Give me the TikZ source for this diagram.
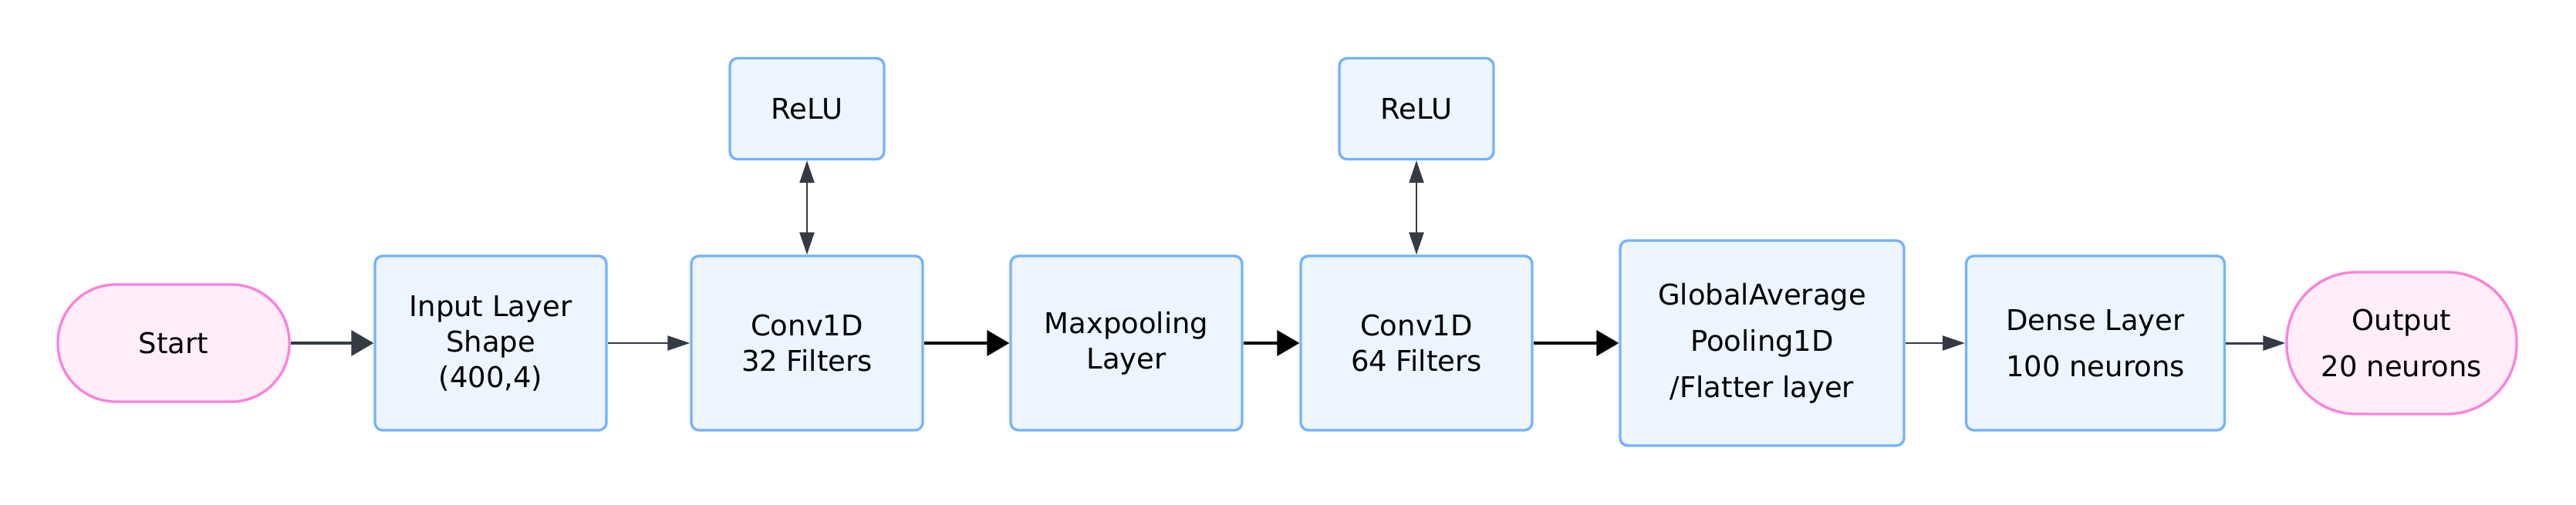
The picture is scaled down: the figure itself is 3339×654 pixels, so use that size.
\documentclass[tikz,border=0pt]{standalone}
\usepackage{fontspec}
\setmainfont{DejaVu Sans}
\usetikzlibrary{arrows.meta}
\definecolor{boxfill}{HTML}{EDF5FF}
\definecolor{boxline}{HTML}{72B3FF}
\definecolor{pinkfill}{HTML}{FFEEF8}
\definecolor{pinkline}{HTML}{FF80DC}
\definecolor{arrowgray}{HTML}{353B45}
\begin{document}
\begin{tikzpicture}[x=0.3pt,y=-0.3pt,
  layer/.style={draw=boxline, fill=boxfill, line width=1pt, rounded corners=3pt,
    align=center, inner sep=0pt, minimum width=90pt, minimum height=67.8pt,
    font=\fontsize{11.1}{13.8}\selectfont},
  widelead/.style={font=\fontsize{11.1}{18}\selectfont},
  terminal/.style={draw=pinkline, fill=pinkfill, line width=1pt, align=center, inner sep=0pt,
    font=\fontsize{11.1}{18}\selectfont},
  reluBox/.style={layer, minimum width=60pt, minimum height=39.3pt},
  bigarr/.style={line width=1pt, -{Triangle[length=8.7pt,width=9.9pt]}},
  smallarr/.style={draw=arrowgray, line width=0.7pt, -{Triangle[length=8.7pt,width=5.7pt]}, arrowgray},
  dblarr/.style={draw=arrowgray, line width=0.7pt, {Triangle[length=8.7pt,width=5.7pt]}-{Triangle[length=8.7pt,width=5.7pt]}, arrowgray}
]
\useasboundingbox (0,0) rectangle (3339,654);
\node[terminal, minimum width=90pt, minimum height=45.6pt, rounded corners=22.5pt] (start) at (225,445) {Start};
\node[layer] (input) at (636,445) {Input Layer\\Shape\\(400,4)};
\node[reluBox] (relu1) at (1046,141) {ReLU};
\node[layer] (conv1) at (1046,445) {Conv1D\\32 Filters};
\node[layer] (maxp) at (1460,445) {Maxpooling\\Layer};
\node[reluBox] (relu2) at (1836,141) {ReLU};
\node[layer] (conv2) at (1836,445) {Conv1D\\64 Filters};
\node[layer, widelead, minimum width=110.4pt, minimum height=79.8pt] (global) at (2284,445) {GlobalAverage\\Pooling1D\\/Flatter layer};
\node[layer, widelead, minimum width=100.5pt] (dense) at (2716,445) {Dense Layer\\100 neurons};
\node[terminal, minimum width=89.4pt, minimum height=55.2pt, rounded corners=27pt] (output) at (3113,445) {Output\\20 neurons};

\draw[bigarr, draw=arrowgray, fill=arrowgray] (start) -- (input);
\draw[smallarr] (input) -- (conv1);
\draw[bigarr, draw=black, fill=black] (conv1) -- (maxp);
\draw[bigarr, draw=black, fill=black] (maxp) -- (conv2);
\draw[bigarr, draw=black, fill=black] (conv2) -- (global);
\draw[smallarr] (global) -- (dense);
\draw[smallarr, line width=0.9pt] (dense) -- (output);
\draw[dblarr] (relu1) -- (conv1);
\draw[dblarr] (relu2) -- (conv2);
\end{tikzpicture}
\end{document}
